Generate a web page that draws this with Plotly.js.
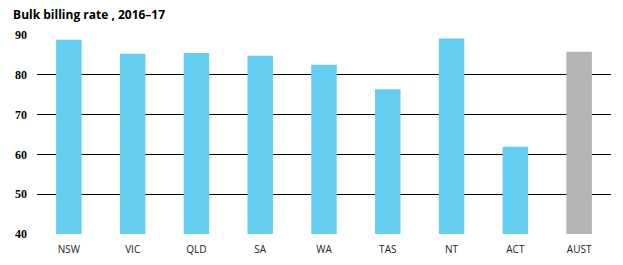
<!DOCTYPE html>
<html><head><meta charset="utf-8">
<script src="https://cdn.plot.ly/plotly-3.0.1.min.js"></script>
<style>html,body{margin:0;padding:0;background:#fff}#chart{width:623px;height:265px}</style>
</head><body><div id="chart"></div>
<script>
var categories = ["NSW","VIC","QLD","SA","WA","TAS","NT","ACT","AUST"];
var rates = [88.8, 85.3, 85.5, 84.8, 82.5, 76.4, 89.1, 61.9, 85.8];
var barColors = ["#63CEF0","#63CEF0","#63CEF0","#63CEF0","#63CEF0","#63CEF0","#63CEF0","#63CEF0","#B4B4B6"];
var yTicks = [40,50,60,70,80,90];

Plotly.newPlot("chart", [{
  type: "bar", x: categories, y: rates,
  marker: {color: barColors, line: {width: 0}},
  hoverinfo: "x+y"
}], {
  width: 623, height: 265,
  margin: {l: 37, r: 12, t: 35, b: 31},
  paper_bgcolor: "#fff", plot_bgcolor: "#fff",
  bargap: 0.6,
  showlegend: false,
  title: {text: "<b>Bulk billing rate , 2016–17</b>", x: 0.021, xanchor: "left", y: 0.943, yanchor: "middle",
          font: {family: "Open Sans, sans-serif", size: 12, color: "#000"}},
  xaxis: {showgrid: false, zeroline: false, showline: false, ticks: "", ticklabelstandoff: 8,
          tickfont: {family: "Open Sans, sans-serif", size: 10, color: "#222"}},
  yaxis: {range: [40, 90], tickvals: yTicks, showgrid: true, gridcolor: "#000", gridwidth: 1.3,
          zeroline: false, showline: false, ticks: "", ticklabelstandoff: 9,
          tickfont: {family: "Liberation Serif, serif", size: 12, color: "#000", weight: "bold"}}
}, {displayModeBar: false, staticPlot: true});
</script></body></html>
